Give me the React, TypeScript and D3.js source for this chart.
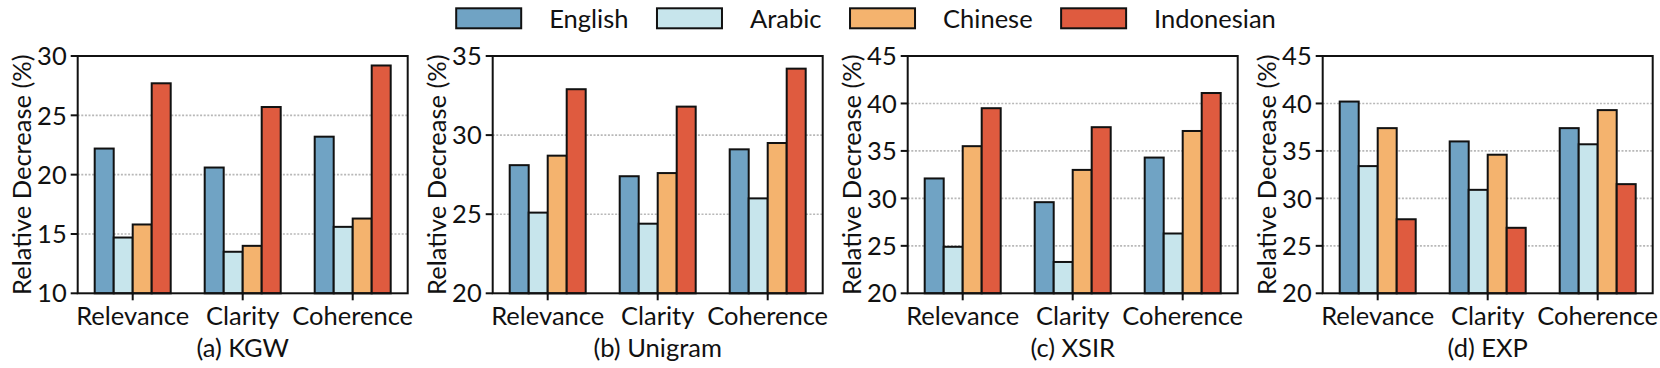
import { useEffect, useRef } from 'react';
import * as d3 from 'd3';

const categories = ['Relevance', 'Clarity', 'Coherence'];
const languages = ['English', 'Arabic', 'Chinese', 'Indonesian'];
const colors = ['#70a3c4', '#c7e5ec', '#f4b36e', '#df5b3f'];
const titles = ['(a) KGW', '(b) Unigram', '(c) XSIR', '(d) EXP'];
const yDomains = [[10, 30], [20, 35], [20, 45], [20, 45]];

// rows = languages (English, Arabic, Chinese, Indonesian), cols = categories
const kgw = [[22.2, 20.6, 23.2], [14.7, 13.5, 15.6], [15.8, 14.0, 16.3], [27.7, 25.7, 29.2]];
const unigram = [[28.1, 27.4, 29.1], [25.1, 24.4, 26.0], [28.7, 27.6, 29.5], [32.9, 31.8, 34.2]];
const xsir = [[32.1, 29.6, 34.3], [24.9, 23.3, 26.3], [35.5, 33.0, 37.1], [39.5, 37.5, 41.1]];
const exp = [[40.2, 36.0, 37.4], [33.4, 30.9, 35.7], [37.4, 34.6, 39.3], [27.8, 26.9, 31.5]];
const panels = [kgw, unigram, xsir, exp];

const FONT = 'Lato, "Noto Sans", sans-serif';

const App = () => {
  const ref = useRef<HTMLDivElement>(null);

  useEffect(() => {
    if (!ref.current) return;
    d3.select(ref.current).selectAll('svg').remove();

    const W = 1660, H = 368;
    const svg = d3.select(ref.current)
      .append('svg')
      .attr('width', W)
      .attr('height', H)
      .style('position', 'absolute')
      .style('left', '0px')
      .style('top', '0px')
      .style('font-family', FONT);

    const top = 56, bottom = 293.3, pw = 330;
    const fs = 25.5;

    panels.forEach((data, pi) => {
      const left = 77.7 + 415 * pi;
      const g = svg.append('g').attr('transform', `translate(${left},0)`);

      const x = d3.scaleBand().domain(categories).range([0, pw]).padding(0);
      const xi = d3.scaleBand().domain(languages).range([-38, 38]).padding(0);
      const y = d3.scaleLinear().domain(yDomains[pi]).range([bottom, top]);
      const ticks = d3.range(yDomains[pi][0], yDomains[pi][1] + 0.1, 5);

      // grid
      g.selectAll('.grid')
        .data(ticks.slice(1, -1))
        .enter().append('line')
        .attr('x1', 0).attr('x2', pw)
        .attr('y1', d => y(d)).attr('y2', d => y(d))
        .attr('stroke', '#b8b8b8')
        .attr('stroke-width', 1.6)
        .attr('stroke-dasharray', '2,1.6');

      // bars
      languages.forEach((lang, li) => {
        g.selectAll(`.bar-${li}`)
          .data(data[li])
          .enter().append('rect')
          .attr('x', (_, ci) => x(categories[ci])! + x.bandwidth() / 2 + xi(lang)!)
          .attr('width', xi.bandwidth())
          .attr('y', d => y(d))
          .attr('height', d => bottom - y(d))
          .attr('fill', colors[li])
          .attr('stroke', '#111')
          .attr('stroke-width', 2);
      });

      // frame
      g.append('rect')
        .attr('x', 0).attr('y', top)
        .attr('width', pw).attr('height', bottom - top)
        .attr('fill', 'none')
        .attr('stroke', '#111')
        .attr('stroke-width', 2);

      // y ticks
      ticks.forEach(t => {
        g.append('line')
          .attr('x1', -7).attr('x2', 0)
          .attr('y1', y(t)).attr('y2', y(t))
          .attr('stroke', '#111').attr('stroke-width', 2);
        g.append('text')
          .attr('x', -11).attr('y', y(t))
          .attr('dy', '0.36em')
          .attr('text-anchor', 'end')
          .attr('font-size', fs)
          .attr('fill', '#111')
          .text(t);
      });

      // x ticks
      categories.forEach(c => {
        const cx = x(c)! + x.bandwidth() / 2;
        g.append('line')
          .attr('x1', cx).attr('x2', cx)
          .attr('y1', bottom).attr('y2', bottom + 7)
          .attr('stroke', '#111').attr('stroke-width', 2);
        g.append('text')
          .attr('x', cx).attr('y', 325)
          .attr('text-anchor', 'middle')
          .attr('font-size', fs)
          .attr('fill', '#111')
          .text(c);
      });

      // y label
      g.append('text')
        .attr('transform', `translate(-56,${(top + bottom) / 2}) rotate(-90)`)
        .attr('dy', '0.35em')
        .attr('text-anchor', 'middle')
        .attr('font-size', fs)
        .attr('fill', '#111')
        .text('Relative Decrease (%)');

      // subtitle
      g.append('text')
        .attr('x', pw / 2).attr('y', 357)
        .attr('text-anchor', 'middle')
        .attr('font-size', fs)
        .attr('fill', '#111')
        .text(titles[pi]);
    });

    // legend, laid out by measured text width and centred
    const leg = svg.append('g');
    let cur = 0;
    languages.forEach((lang, li) => {
      leg.append('rect')
        .attr('x', cur).attr('y', 8.3)
        .attr('width', 65).attr('height', 20)
        .attr('fill', colors[li])
        .attr('stroke', '#111').attr('stroke-width', 2);
      const t = leg.append('text')
        .attr('x', cur + 93).attr('y', 18.5)
        .attr('dy', '0.36em')
        .attr('font-size', fs)
        .attr('fill', '#111')
        .text(lang);
      const w = (t.node() as SVGTextElement).getComputedTextLength();
      cur += 93 + w + (li < languages.length - 1 ? 28.5 : 0);
    });
    leg.attr('transform', `translate(${866 - cur / 2},0)`);
  }, []);

  return <div ref={ref} />;
};

export default App;
